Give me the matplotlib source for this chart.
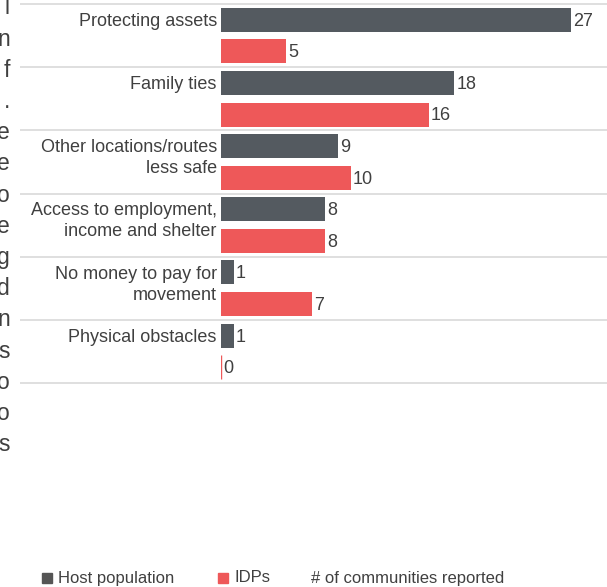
import matplotlib.pyplot as plt
import matplotlib.patches as mpatches
import numpy as np

plt.rcParams['font.family'] = ['Liberation Sans', 'DejaVu Sans']

# data
categories = ['Protecting assets', 'Family ties', 'Other locations/routes\nless safe',
              'Access to employment,\nincome and shelter', 'No money to pay for\nmovement',
              'Physical obstacles']
host_values = [27, 18, 9, 8, 1, 1]
idp_values = [5, 16, 10, 8, 7, 0]
series_names = ['Host population', 'IDPs']
legend_note = '# of communities reported'
# clipped paragraph on the left edge (only last letters visible)
side_letters = ['l', 'n', 'f', '.', 'e', 'e', 'o', 'e', 'g', 'd', 'n', 's', 'o', 'o', 's']

host_color = '#545a60'
idp_color = '#ee5859'
text_color = '#404040'
grid_color = '#d9d9d9'

W, H = 607, 587
fig = plt.figure(figsize=(W / 100, H / 100), dpi=100)
ax_left = 221 / W
ax_top = 1 - 4 / H
ax_bottom = 1 - 383 / H
ax = fig.add_axes([ax_left, ax_bottom, 1 - ax_left, ax_top - ax_bottom])

n = len(categories)
y = np.arange(n)
off = 0.25
bh = 24 / 63.2
ax.barh(y - off, host_values, height=bh, color=host_color)
ax.barh(y + off, idp_values, height=bh, color=idp_color,
        edgecolor=idp_color, linewidth=[1.0 if v == 0 else 0 for v in idp_values])

ax.set_xlim(0, 386 / 12.97)
ax.set_ylim(n - 0.5, -0.5)
ax.axis('off')

# separator lines, extending left under the labels
xmin_frac = (20 - 221) / (W - 221)
ax.hlines(np.arange(n + 1) - 0.5, xmin_frac, 1, transform=ax.get_yaxis_transform(),
          color=grid_color, linewidth=1.2, clip_on=False)

# value labels
for yy, v in zip(y - off, host_values):
    ax.annotate(str(v), (v, yy), xytext=(1.5, -1), textcoords='offset points',
                va='center', ha='left', fontsize=13, color=text_color)
for yy, v in zip(y + off, idp_values):
    ax.annotate(str(v), (v, yy), xytext=(1.5, -1), textcoords='offset points',
                va='center', ha='left', fontsize=13, color=text_color)

# category labels (first line at host bar, following lines below)
for i, cat in enumerate(categories):
    for j, line in enumerate(cat.split('\n')):
        ax.annotate(line, (0, i - off), xytext=(-3, -1.2 - j * 15.1), textcoords='offset points',
                    va='center', ha='right', fontsize=13, color=text_color)

# clipped side text
for k, ch in enumerate(side_letters):
    yy = 8 + k * 31.2
    fig.text(10 / W, 1 - yy / H, ch, ha='right', va='center', fontsize=16.5, color=text_color)

# legend
ly = 1 - 578 / H
fig.patches.append(mpatches.Rectangle((42 / W, ly - 5 / H), 10 / W, 10 / H,
                                      transform=fig.transFigure, color='#555555'))
fig.text(58 / W, ly, series_names[0], ha='left', va='center', fontsize=12, color=text_color)
fig.patches.append(mpatches.Rectangle((218 / W, ly - 5 / H), 10 / W, 10 / H,
                                      transform=fig.transFigure, color=idp_color))
fig.text(234 / W, ly, series_names[1], ha='left', va='center', fontsize=12, color=text_color)
fig.text(311 / W, ly, legend_note, ha='left', va='center', fontsize=12, color=text_color)

fig.savefig('out.png', dpi=100)
